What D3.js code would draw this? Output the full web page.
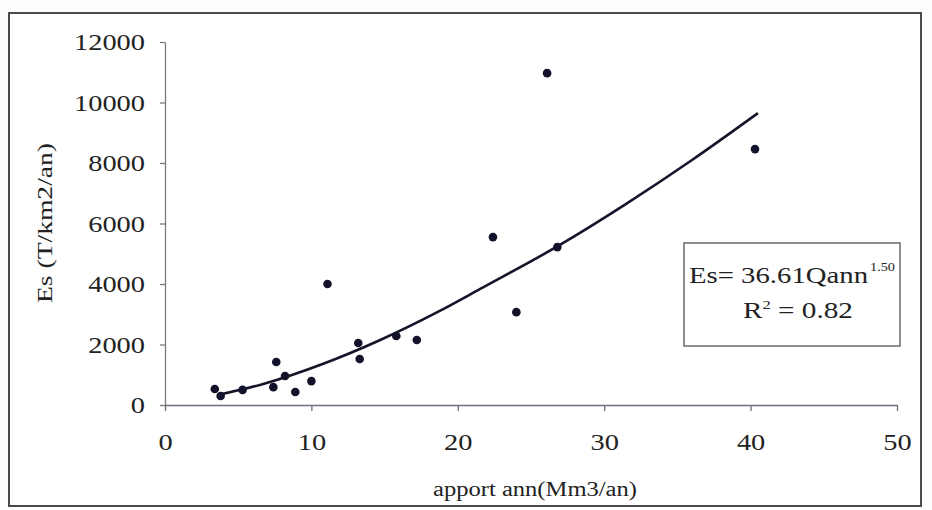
<!DOCTYPE html>
<html>
<head>
<meta charset="utf-8">
<script src="https://cdn.jsdelivr.net/npm/d3@7"></script>
<style>
  html, body { margin: 0; padding: 0; background: #fdfdfd; }
  svg { display: block; }
  text { font-family: "Liberation Serif", "Times New Roman", serif; fill: #222; }
</style>
</head>
<body>
<svg id="chart" width="932" height="510"></svg>
<script>
// ---- data ----
const qann = [3.4, 3.8, 5.3, 7.4, 7.6, 8.2, 8.9, 10.0, 11.1, 13.2, 13.3, 15.8, 17.2, 22.4, 24.0, 26.1, 26.8, 40.3];
const es   = [530, 300, 500, 590, 1420, 960, 430, 790, 4000, 2050, 1520, 2280, 2150, 5550, 3070, 10970, 5220, 8460];

// trend curve
const curveQ  = [3.6, 6.6, 10.9, 14.7, 18.8, 21.5, 27.0, 31.5, 36.0, 40.5];
const curveEs = [330, 680, 1380, 2150, 3120, 3830, 5300, 6650, 8100, 9650];

const xTicks = [0, 10, 20, 30, 40, 50];
const yTicks = [0, 2000, 4000, 6000, 8000, 10000, 12000];

const xTitle = "apport ann(Mm3/an)";
const yTitle = "Es (T/km2/an)";
const eqMain = "Es= 36.61Qann";
const eqExp  = "1.50";
const r2Base = "R";
const r2Sup  = "2";
const r2Rest = " = 0.82";

// ---- drawing ----
const svg = d3.select("#chart");

// outer frame
svg.append("rect")
  .attr("x", 9).attr("y", 13).attr("width", 912).attr("height", 493)
  .attr("fill", "#ffffff").attr("stroke", "#4a4a4a").attr("stroke-width", 2);

const x = d3.scaleLinear().domain([0, 50]).range([165, 897]);
const y = d3.scaleLinear().domain([0, 12000]).range([405, 42]);

const charW = 14.2;

// y axis
const gy = svg.append("g").attr("transform", "translate(165,0)")
  .call(d3.axisLeft(y).tickValues(yTicks).tickSize(5).tickSizeOuter(0).tickPadding(15).tickFormat(d3.format("d")));
gy.select(".domain").attr("stroke", "#7a7a7a").attr("stroke-width", 1.3);
gy.selectAll(".tick line").attr("stroke", "#7a7a7a").attr("stroke-width", 1.3);
gy.selectAll(".tick text")
  .attr("font-size", 24).attr("fill", "#222")
  .attr("font-family", "Liberation Serif, serif")
  .attr("textLength", d => String(d).length * charW)
  .attr("lengthAdjust", "spacingAndGlyphs");

// x axis
const gx = svg.append("g").attr("transform", "translate(0,405)")
  .call(d3.axisBottom(x).tickValues(xTicks).tickSize(6).tickSizeOuter(0).tickPadding(22).tickFormat(d3.format("d")));
gx.select(".domain").attr("stroke", "#6e6e80").attr("stroke-width", 1.3);
gx.selectAll(".tick line").attr("stroke", "#6e6e80").attr("stroke-width", 1.3);
gx.selectAll(".tick text")
  .attr("font-size", 24).attr("fill", "#222")
  .attr("font-family", "Liberation Serif, serif")
  .attr("textLength", d => String(d).length * charW)
  .attr("lengthAdjust", "spacingAndGlyphs");

// axis titles
svg.append("text")
  .attr("x", 535).attr("y", 496)
  .attr("text-anchor", "middle").attr("font-size", 20)
  .attr("textLength", 204).attr("lengthAdjust", "spacingAndGlyphs")
  .text(xTitle);

svg.append("text")
  .attr("transform", "translate(52,223) rotate(-90)")
  .attr("text-anchor", "middle").attr("font-size", 20)
  .attr("textLength", 160).attr("lengthAdjust", "spacingAndGlyphs")
  .text(yTitle);

// trend curve
const line = d3.line()
  .x((d, i) => x(curveQ[i]))
  .y((d, i) => y(curveEs[i]))
  .curve(d3.curveMonotoneX);
svg.append("path")
  .datum(curveQ)
  .attr("d", line)
  .attr("fill", "none")
  .attr("stroke", "#15152a")
  .attr("stroke-width", 2.6);

// points
svg.append("g").selectAll("circle")
  .data(qann)
  .join("circle")
  .attr("cx", (d) => x(d))
  .attr("cy", (d, i) => y(es[i]))
  .attr("r", 4.3)
  .attr("fill", "#12122a");

// equation box
svg.append("rect")
  .attr("x", 684).attr("y", 243).attr("width", 216).attr("height", 103)
  .attr("fill", "#ffffff").attr("stroke", "#6a6a6a").attr("stroke-width", 1.5);

svg.append("text")
  .attr("x", 689).attr("y", 283)
  .attr("font-size", 23)
  .attr("textLength", 179).attr("lengthAdjust", "spacingAndGlyphs")
  .text(eqMain);
svg.append("text")
  .attr("x", 870).attr("y", 271)
  .attr("font-size", 13)
  .attr("textLength", 25).attr("lengthAdjust", "spacingAndGlyphs")
  .text(eqExp);

const r2 = svg.append("text")
  .attr("x", 743).attr("y", 318)
  .attr("font-size", 23)
  .attr("textLength", 110).attr("lengthAdjust", "spacingAndGlyphs");
r2.append("tspan").text(r2Base);
r2.append("tspan").attr("dy", -9).attr("font-size", 13).text(r2Sup);
r2.append("tspan").attr("dy", 9).text(r2Rest);
</script>
</body>
</html>
